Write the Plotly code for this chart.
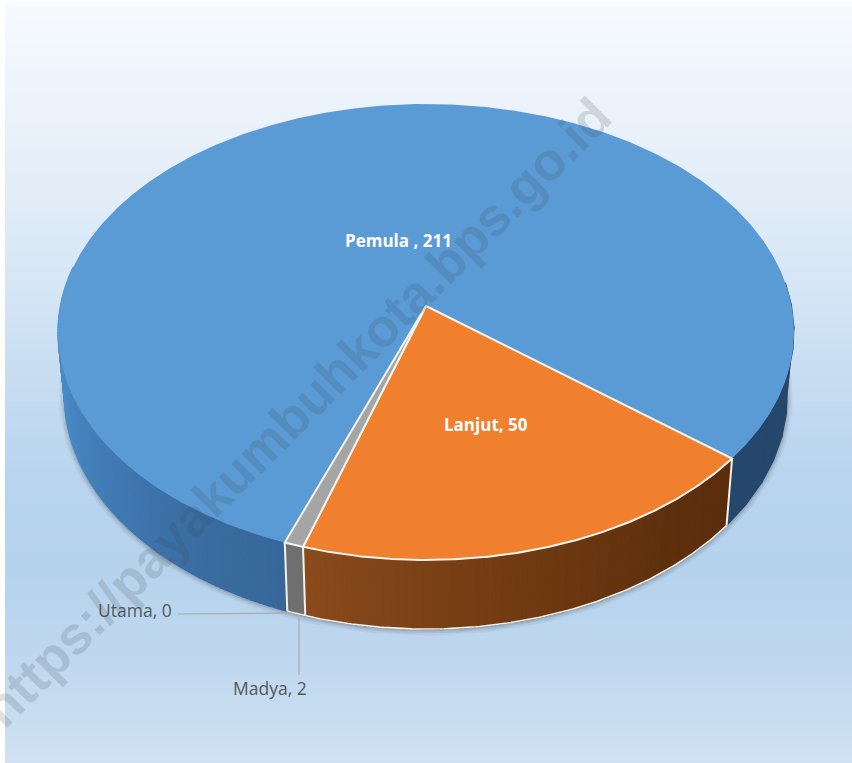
import math
import numpy as np
import plotly.graph_objects as go

# ---- data ----
labels = ["Pemula ", "Lanjut", "Madya", "Utama"]
values = [211, 50, 2, 0]
top_colors = ["#5b9bd5", "#f07f2e", "#a5a5a5", "#ffc000"]
watermark = "https://payakumbuhkota.bps.go.id"

# ---- geometry of the tilted disc (pixel space of the 852x763 page) ----
W, H = 852, 763
CX, CY, RX, RY, K = 426.0, 306.0, 365.6, 225.0, 0.114
BOTTOM_SX, BOTTOM_SY, BOTTOM_Y = 0.982, 1.02, 370.0
START = 129.0 - values[0] / sum(values) * 360.0


def top(deg):
    a = np.radians(np.asarray(deg, dtype=float))
    u, v = np.sin(a), -np.cos(a)
    d = 1 - K * v
    return CX + RX * u / d, CY + RY * v / d


def bottom(deg):
    x, y = top(deg)
    return CX + BOTTOM_SX * (x - CX), BOTTOM_Y + BOTTOM_SY * (y - CY)


def hex_mix(stops, t):
    t = min(max(t, 0), 1) * (len(stops) - 1)
    i = min(int(t), len(stops) - 2)
    f = t - i
    a = [int(stops[i][j:j + 2], 16) for j in (1, 3, 5)]
    b = [int(stops[i + 1][j:j + 2], 16) for j in (1, 3, 5)]
    return "#" + "".join(f"{round(p + (q - p) * f):02x}" for p, q in zip(a, b))


fig = go.Figure()

# background gradient: one row of rectangles per band, starting at the panel's left edge
bg_stops = ["#f7fbff", "#edf3fb", "#e2edf8", "#d5e6f5", "#c6dcf1", "#b8d4ee", "#b6d3ed", "#c0d8ef", "#d0e2f3"]
bands = np.arange(2, H + 3, 3)
fig.add_trace(go.Heatmap(
    x=[5, W], y=bands, z=[[r / H] for r in bands[:-1]],
    colorscale=[[i / (len(bg_stops) - 1), c] for i, c in enumerate(bg_stops)],
    zmin=0, zmax=1, showscale=False, hoverinfo="skip"))


def poly(x, y, fill, line=None, width=0):
    fig.add_trace(go.Scatter(
        x=list(x), y=list(y), mode="lines", fill="toself", fillcolor=fill,
        line=dict(color=line or fill, width=width), hoverinfo="skip", showlegend=False))


def stroke(x, y, color, width):
    fig.add_trace(go.Scatter(
        x=list(x), y=list(y), mode="lines", line=dict(color=color, width=width),
        hoverinfo="skip", showlegend=False))


def arc(a, b, n=None):
    n = n or max(3, int(abs(b - a) * 2))
    return np.linspace(a, b, n)


# boundaries derived from the values
bounds = [START]
for v in values:
    bounds.append(bounds[-1] + v / sum(values) * 360.0)
lanjut_a, lanjut_b = bounds[1], bounds[2]
madya_a, madya_b = bounds[2], bounds[3]

# soft shadow under the disc edge
sa = arc(85, 275, 300)
sx, sy = bottom(sa)
for w, col in ((11, "rgba(70,80,90,0.07)"), (7, "rgba(70,80,90,0.10)"), (3, "rgba(60,70,80,0.16)")):
    stroke(sx, sy + 1, col, w)


def side_strips(a, b, n, stops):
    edges = np.linspace(a, b, n + 1)
    for i in range(n):
        arc_a = arc(edges[i], edges[i + 1], 3)
        tx, ty = top(arc_a)
        bx, by = bottom(arc_a)
        col = hex_mix(stops, i / max(n - 1, 1))
        poly(np.r_[tx, bx[::-1], tx[0]], np.r_[ty, by[::-1], ty[0]], col, col, 1.2)


# blue side, right part then left part
side_strips(lanjut_a - 360 - 45, lanjut_a - 360, 4, ["#24476b", "#24476b"])
side_strips(bounds[0] + 80, bounds[0], 110, ["#5595d1", "#4f90cd", "#4785c0", "#4079b2", "#3b6ea3", "#37679a"])
# orange side
side_strips(lanjut_a - 360, lanjut_b - 360, 110, ["#5b2d0b", "#5f300d", "#693610", "#733c13", "#7e4317", "#8a4a1c"])
# grey side
side_strips(madya_a - 360, madya_b - 360, 2, ["#6f6f6f", "#6f6f6f"])

# white edges of the sides
for ang in (lanjut_a - 360, lanjut_b - 360, madya_b - 360):
    tx, ty = top(ang)
    bx, by = bottom(ang)
    stroke([tx, bx], [ty, by], "#f4f1ec", 2)
ba = arc(lanjut_a - 360, madya_b - 360)
bx, by = bottom(ba)
stroke(bx, by, "#f2f0ea", 1.6)

# top faces
for i, (a, b) in enumerate(zip(bounds[:-1], bounds[1:])):
    if values[i] == 0:
        continue
    a2 = a - 360 if i > 0 else a
    b2 = b - 360 if i > 0 else b
    ang = arc(a2, b2, max(4, int((b2 - a2) * 3)))
    x, y = top(ang)
    if i == 0:
        poly(np.r_[CX, x, CX], np.r_[CY, y, CY], top_colors[i])
    else:
        poly(np.r_[CX, x, CX], np.r_[CY, y, CY], top_colors[i], "#f5f5f2", 2)

# leader lines and labels
stroke([178, 292], [614, 613], "#a9a9a9", 1.2)
stroke([299, 299], [618, 675], "#a9a9a9", 1.2)

label_font = "Open Sans, Noto Sans, sans-serif"
ann = [
    dict(x=398, y=240, text=f"<b>{labels[0]}, {values[0]}</b>", font=dict(color="#ffffff", size=17, family=label_font)),
    dict(x=486, y=424, text=f"<b>{labels[1]}, {values[1]}</b>", font=dict(color="#ffffff", size=17, family=label_font)),
    dict(x=135, y=610, text=f"{labels[3]}, {values[3]}", font=dict(color="#55585c", size=17.5, family=label_font)),
    dict(x=270, y=688, text=f"{labels[2]}, {values[2]}", font=dict(color="#55585c", size=17.5, family=label_font)),
    dict(x=296, y=412, text=f"<b>{watermark}</b>", textangle=-45,
         font=dict(color="rgba(60,70,80,0.17)", size=53, family="Liberation Sans, Arial, sans-serif")),
]
for a in ann:
    a.update(xref="x", yref="y", showarrow=False, xanchor="center", yanchor="middle")

fig.update_layout(
    width=W, height=H, autosize=False,
    margin=dict(l=0, r=0, t=0, b=0),
    paper_bgcolor="#ffffff", plot_bgcolor="#ffffff",
    showlegend=False, annotations=ann,
    xaxis=dict(range=[0, W], visible=False, fixedrange=True),
    yaxis=dict(range=[H, 0], visible=False, fixedrange=True),
)
fig.write_html("out.html", config=dict(displayModeBar=False),
               post_script="document.body.style.margin='0';document.documentElement.style.overflow='hidden';")
